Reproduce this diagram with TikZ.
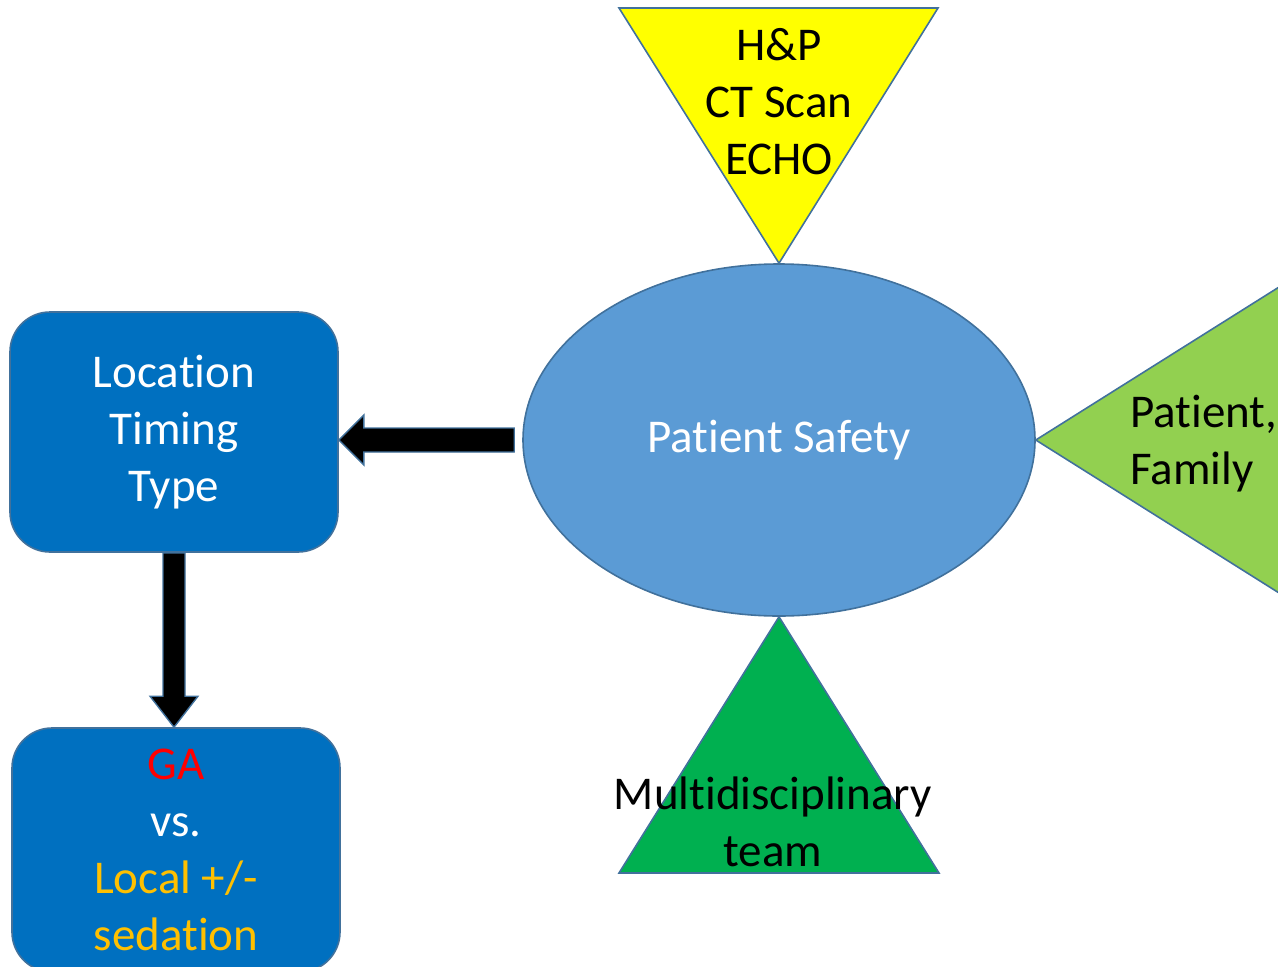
\documentclass[tikz,border=0pt]{standalone}
\usepackage{fontspec}
\setmainfont[Ligatures=NoCommon]{Carlito}
\usetikzlibrary{calc,positioning,shapes.geometric}
\definecolor{SafetyBlue}{HTML}{5B9BD5}
\definecolor{EdgeBlue}{HTML}{41719C}
\definecolor{BoxBlue}{HTML}{0070C0}
\definecolor{ExamYellow}{HTML}{FFFF00}
\definecolor{FamilyGreen}{HTML}{92D050}
\definecolor{TeamGreen}{HTML}{00B050}
\definecolor{GARed}{HTML}{FF0000}
\definecolor{LocalGold}{HTML}{FFC000}

\begin{document}
\begin{tikzpicture}[
    x=1pt,y=-1pt,
    label/.style={align=center,inner sep=0pt,font=\fontsize{47}{57}\selectfont},
    wedge/.style={draw=EdgeBlue,line width=1.6pt,line join=miter},
    rbox/.style={label,draw=EdgeBlue,line width=1.6pt,fill=BoxBlue,text=white,rounded corners=40pt,minimum width=328pt},
    blockarrow/.style={draw=EdgeBlue,line width=1.4pt,fill=black,line join=miter}
  ]
    \useasboundingbox (0,0) rectangle (1278,967);
    % centre ellipse
    \node[label,ellipse,draw=EdgeBlue,line width=1.6pt,fill=SafetyBlue,text=white,minimum width=512pt,minimum height=352pt] (safety) at (779,440) {Patient Safety};
    % the three wedges
    \fill[wedge,fill=ExamYellow] (619,8) -- (938,8) -- (safety.north) -- cycle;
    \fill[wedge,fill=FamilyGreen] (safety.east) -- (1330,255) -- (1330,625) -- cycle;
    \fill[wedge,fill=TeamGreen] (safety.south) -- (939,873) -- (619,873) -- cycle;
    \node[label] (exam) at (779,102) {H\&P\\CT Scan\\ECHO};
    \node[label,align=left,anchor=west] (family) at (1130,444) {Patient,\\Family};
    \node[label] (team) at (773,822) {Multidisciplinary\\team};
    % boxes on the left
    \node[rbox,minimum height=240pt] (loc) at (174,432) {Location\\Timing\\Type};
    \node[rbox,minimum height=244pt] (anaes) at (176,850) {\textcolor{GARed}{GA}\\vs.\\\textcolor{LocalGold}{Local +/-}\\\textcolor{LocalGold}{sedation}};
    % fat arrows
    \coordinate (tipL) at (loc.east |- safety.west);
    \draw[blockarrow] ($(safety.west)+(-8,-12)$) -- ($(tipL)+(25,-12)$) -- ($(tipL)+(25,-25)$) -- (tipL)
      -- ($(tipL)+(25,25)$) -- ($(tipL)+(25,12)$) -- ($(safety.west)+(-8,12)$) -- cycle;
    \coordinate (tipD) at (loc.south |- anaes.north);
    \draw[blockarrow] ($(loc.south)+(-11,0)$) -- ($(tipD)+(-11,-31)$) -- ($(tipD)+(-24,-31)$) -- (tipD)
      -- ($(tipD)+(24,-31)$) -- ($(tipD)+(11,-31)$) -- ($(loc.south)+(11,0)$) -- cycle;
\end{tikzpicture}
\end{document}
